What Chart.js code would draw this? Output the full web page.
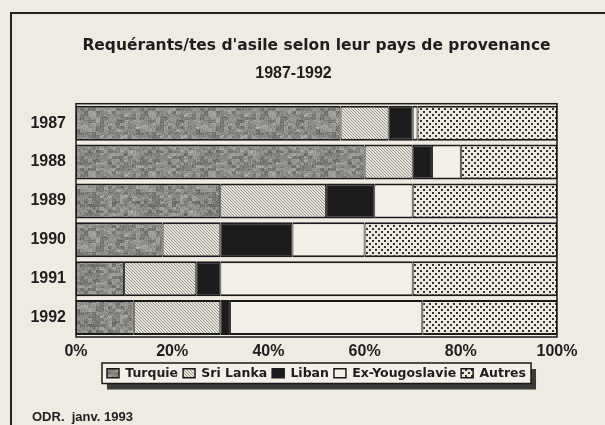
<!DOCTYPE html>
<html>
<head>
<meta charset="utf-8">
<script src="https://cdn.jsdelivr.net/npm/chart.js@4.4.0/dist/chart.umd.min.js"></script>
<style>
  body { margin: 0; background: #efebe3; }
  #wrap { position: relative; width: 605px; height: 425px; }
  #footer { position: absolute; left: 32px; top: 409px; font: bold 13px Arial, "Liberation Sans", sans-serif; color: #222; white-space: pre; }
</style>
</head>
<body>
<div id="wrap">
  <canvas id="myBarChart" width="605" height="425"></canvas>
  <div id="footer">ODR.  janv. 1993</div>
</div>
<script>
// data (share in %)
const years = ['1987', '1988', '1989', '1990', '1991', '1992'];
const turquie = [55, 60, 30, 18, 10, 12];
const sriLanka = [10, 10, 22, 12, 15, 18];
const liban = [5, 4, 10, 15, 5, 2];
const exYougoslavie = [1, 6, 8, 15, 40, 40];
const autres = [29, 20, 30, 40, 30, 28];
const xTicks = [0, 20, 40, 60, 80, 100];

const FONT = 'Arial, "Liberation Sans", sans-serif';
const WIDE = '"DejaVu Sans", Verdana, sans-serif';
const INK = '#1e1e1e';

// small bitmap fills to mimic the printed textures
function makePattern(size, pixel) {
    const c = document.createElement('canvas');
    c.width = c.height = size;
    const g = c.getContext('2d');
    const img = g.createImageData(size, size);
    for (let y = 0; y < size; y++) {
        for (let x = 0; x < size; x++) {
            const v = pixel(x, y);
            const i = (y * size + x) * 4;
            img.data[i] = v[0]; img.data[i + 1] = v[1]; img.data[i + 2] = v[2]; img.data[i + 3] = 255;
        }
    }
    g.putImageData(img, 0, 0);
    return g.createPattern(c, 'repeat');
}

function hash(x, y) {
    let h = (x * 374761393 + y * 668265263) >>> 0;
    h = ((h ^ (h >>> 13)) * 1274126177) >>> 0;
    return (h ^ (h >>> 16)) >>> 0;
}

const greyTexture = makePattern(60, (x, y) => {
    const coarse = hash(Math.floor(x / 4), Math.floor(y / 3)) % 50;
    const fine = hash(x, y) % 40;
    const v = 92 + coarse + fine;
    return [v, v, v - 3];
});
const hatch = makePattern(6, (x, y) => ((x - y + 6) % 3 === 0) ? [150, 148, 142] : [232, 229, 221]);
const dots = makePattern(6, (x, y) => {
    const on = (x < 2 && y < 2) || (x >= 3 && x < 5 && y >= 3 && y < 5);
    return on ? [50, 50, 48] : [236, 233, 225];
});

function ds(label, data, fill) {
    return {
        label: label,
        data: data,
        backgroundColor: fill,
        borderColor: '#1a1a1a',
        borderWidth: { top: 2, bottom: 2, left: 1, right: 1 },
        borderSkipped: false
    };
}

const framePlugin = {
    id: 'frame',
    beforeDraw(chart) {
        const c = chart.ctx;
        c.save();
        c.fillStyle = '#efebe3';
        c.fillRect(0, 0, chart.width, chart.height);
        c.strokeStyle = '#222';
        c.lineWidth = 2;
        c.beginPath();
        c.moveTo(11, 425);
        c.lineTo(11, 13);
        c.lineTo(605, 13);
        c.stroke();

        // legend frame with a dark shadow
        const boxes = chart.legend.legendHitBoxes;
        if (boxes && boxes.length) {
            const l = boxes[0].left - 5;
            const last = boxes[boxes.length - 1];
            const r = last.left + last.width + 5;
            const t = boxes[0].top - 4;
            const b = boxes[0].top + boxes[0].height + 4;
            c.fillStyle = '#3a3a38';
            c.fillRect(l + 5, t + 6, r - l, b - t);
            c.fillStyle = '#f3f0ea';
            c.fillRect(l, t, r - l, b - t);
            c.lineWidth = 1.5;
            c.strokeStyle = '#1a1a1a';
            c.strokeRect(l, t, r - l, b - t);
        }
        c.restore();
    },
    afterDatasetsDraw(chart) {
        const a = chart.chartArea;
        const c = chart.ctx;
        c.save();
        c.strokeStyle = '#1a1a1a';
        c.lineWidth = 1.5;
        c.strokeRect(a.left, a.top, a.right - a.left, a.bottom - a.top);
        c.restore();
    }
};

const ctx = document.getElementById('myBarChart').getContext('2d');
new Chart(ctx, {
    type: 'bar',
    data: {
        labels: years,
        datasets: [
            ds('Turquie', turquie, greyTexture),
            ds('Sri Lanka', sriLanka, hatch),
            ds('Liban', liban, '#1c1c1c'),
            ds('Ex-Yougoslavie', exYougoslavie, '#f2efe8'),
            ds('Autres', autres, dots)
        ]
    },
    options: {
        indexAxis: 'y',
        responsive: false,
        animation: false,
        layout: { padding: { left: 30, right: 48, top: 25, bottom: 35.5 } },
        datasets: { bar: { categoryPercentage: 1, barPercentage: 0.9 } },
        scales: {
            x: {
                stacked: true,
                min: 0,
                max: 100,
                afterBuildTicks: s => { s.ticks = xTicks.map(v => ({ value: v })); },
                afterFit: s => { s.height = 25; },
                ticks: {
                    callback: v => v + '%',
                    color: INK,
                    padding: 5,
                    maxRotation: 0,
                    font: { family: FONT, size: 16, weight: 'bold' }
                },
                grid: { display: false, drawTicks: false, tickLength: 0 },
                border: { display: false }
            },
            y: {
                stacked: true,
                afterFit: s => { s.width = 46; },
                ticks: {
                    color: INK,
                    padding: 10,
                    font: { family: FONT, size: 16, weight: 'bold' }
                },
                grid: { display: false, drawTicks: false, tickLength: 0 },
                border: { display: false }
            }
        },
        plugins: {
            title: {
                display: true,
                fullSize: false,
                text: "Requérants/tes d'asile selon leur pays de provenance",
                color: INK,
                font: { family: WIDE, size: 15.5, weight: 'bold' },
                padding: { top: 12, bottom: 4.3 }
            },
            subtitle: {
                display: true,
                fullSize: true,
                text: '1987-1992',
                color: INK,
                font: { family: FONT, size: 16, weight: 'bold' },
                padding: { top: 4, bottom: 20.6 }
            },
            legend: {
                position: 'bottom',
                fullSize: false,
                labels: {
                    color: INK,
                    boxWidth: 12,
                    boxHeight: 9,
                    padding: 5,
                    font: { family: WIDE, size: 12.5, weight: 'bold' }
                }
            },
            tooltip: { enabled: false }
        }
    },
    plugins: [framePlugin]
});
</script>
</body>
</html>
